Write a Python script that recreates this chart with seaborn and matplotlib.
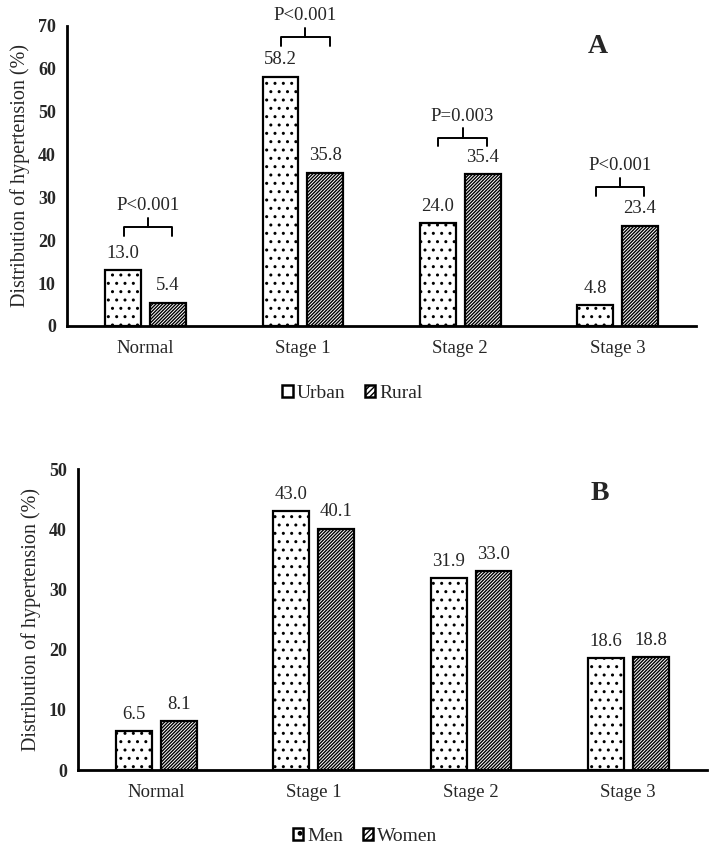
import pandas as pd
import matplotlib.pyplot as plt
import seaborn as sns
import numpy as np
from matplotlib.patches import Patch

# Dati
stadi = ['Normal', 'Stage 1', 'Stage 2', 'Stage 3']
urban = [13.0, 58.2, 24.0, 4.8]
rural = [5.4, 35.8, 35.4, 23.4]
men = [6.5, 43.0, 31.9, 18.6]
women = [8.1, 40.1, 33.0, 18.8]
p_valori = ['P<0.001', 'P<0.001', 'P=0.003', 'P<0.001']

sns.set_style('white')
plt.rcParams['font.family'] = ['Liberation Serif', 'DejaVu Serif']
plt.rcParams['hatch.linewidth'] = 1.0
plt.rcParams['hatch.color'] = 'black'

fig = plt.figure(figsize=(7.09, 8.46), dpi=100)
axA = fig.add_axes([0.0945, 0.6147, 0.8875, 0.3546])
axB = fig.add_axes([0.110, 0.0898, 0.887, 0.3558])


def disegna(ax, v1, v2, nome1, nome2, ymax, passo, lettera, pos_lettera, leg_pos):
    df = pd.DataFrame({
        'Stadio': stadi * 2,
        'Gruppo': [nome1] * 4 + [nome2] * 4,
        'Valore': v1 + v2,
    })
    sns.barplot(data=df, x='Stadio', y='Valore', hue='Gruppo', ax=ax,
                palette=['white', 'white'], edgecolor='black', linewidth=1.6,
                width=0.57, gap=0.2, legend=False, errorbar=None)
    tratteggi = ['..', '//////////']
    for cont, h in zip(ax.containers, tratteggi):
        for b in cont:
            b.set_hatch(h)
        ax.bar_label(cont, fmt='%.1f', padding=6, fontsize=13.5)

    ax.set_ylim(0, ymax)
    ax.set_xlim(-0.5, 3.5)
    ax.set_yticks(np.arange(0, ymax + 1, passo))
    ax.tick_params(axis='y', direction='in', length=4, width=1.5, labelsize=13, pad=8)
    ax.tick_params(axis='x', length=0, labelsize=13.5, pad=10)
    for t in ax.get_yticklabels():
        t.set_fontweight('bold')
    sns.despine(ax=ax)
    for s in ['left', 'bottom']:
        ax.spines[s].set_linewidth(2)
        ax.spines[s].set_color('black')
    ax.set_xlabel('')
    ax.set_ylabel('Distribution of hypertension (%)', fontsize=14.5, labelpad=6)
    ax.text(pos_lettera[0], pos_lettera[1], lettera, transform=ax.transAxes,
            fontsize=20, fontweight='bold', ha='center', va='center')

    # legenda
    maniglie = [Patch(facecolor='white', edgecolor='black', hatch='.', linewidth=1.8, label=nome1),
                Patch(facecolor='white', edgecolor='black', hatch='//////', linewidth=1.8, label=nome2)]
    fig.legend(handles=maniglie, loc='center', bbox_to_anchor=leg_pos, ncol=2,
               frameon=False, fontsize=14, handlelength=0.55, handleheight=0.55,
               handletextpad=0.2, columnspacing=1.0)


disegna(axA, urban, rural, 'Urban', 'Rural', 70, 10, 'A', (0.843, 0.93), (0.497, 0.535))
disegna(axB, men, women, 'Men', 'Women', 50, 10, 'B', (0.83, 0.92), (0.515, 0.011))

# parentesi con P-value (pannello A)
base = [23.1, 67.4, 43.9, 32.4]
for i, (h, p) in enumerate(zip(base, p_valori)):
    x0, x1 = i - 0.14, i + 0.17
    xc = (x0 + x1) / 2
    axA.plot([x0, x0, x1, x1], [h - 2.0, h, h, h - 2.0], color='black', lw=1.4,
             clip_on=False, solid_joinstyle='round')
    axA.plot([xc, xc], [h, h + 2.2], color='black', lw=1.4, clip_on=False)
    axA.text(xc, h + 3.0, p, ha='center', va='bottom', fontsize=13.5, clip_on=False)

fig.savefig('out.png', dpi=100)
